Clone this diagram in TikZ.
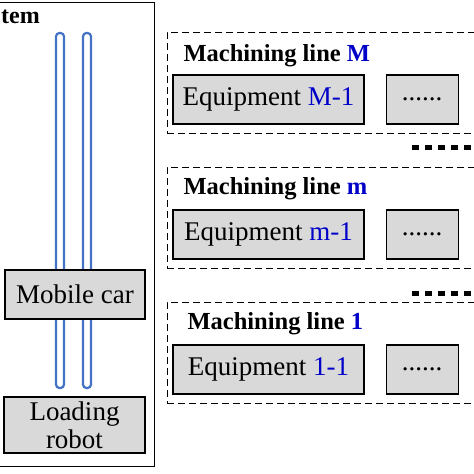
\documentclass[tikz,border=0pt]{standalone}
\usepackage{fontspec}
\setmainfont{Liberation Serif}
\usetikzlibrary{positioning}
\definecolor{railblue}{RGB}{68,114,196}
\definecolor{idblue}{RGB}{0,0,200}
\definecolor{boxgray}{RGB}{217,217,217}

\begin{document}
\begin{tikzpicture}[x=1pt,y=1pt,
  unit box/.style={draw,fill=boxgray,line width=1.2pt,inner sep=0pt,font=\fontsize{27}{28}\selectfont,align=center},
  line box/.style={draw,line width=0.8pt,dash pattern=on 7pt off 4pt,anchor=north west,minimum width=340pt,minimum height=101pt},
  line title/.style={font=\bfseries\fontsize{24.5}{26}\selectfont,anchor=base west},
  rail/.style={draw=railblue,line width=2.2pt,fill=white,rounded corners=3.5pt},
  more dots/.style={line width=5pt,dash pattern=on 7pt off 6pt}]
\useasboundingbox (0,0) rectangle (474,474);
\clip (0,0) rectangle (474,474);

% transport side
\draw[line width=1pt] (-20,471) rectangle (154,7);
\node[font=\bfseries\fontsize{24}{26}\selectfont,anchor=base west,inner sep=0pt] (sys) at (1,450) {tem};
\draw[rail] (56,441) rectangle (64,86);
\draw[rail] (83,441) rectangle (91,86);
\node[unit box,minimum width=140pt,minimum height=49pt] (car) at (75,179.5) {Mobile car};
\node[unit box,minimum width=141pt,minimum height=56pt] (robot) at (74.5,49) {Loading\\robot};

% machining line M
\node[line box] (lineM) at (167,442) {};
\node[line title] (titleM) at (180,412) {Machining line \textcolor{idblue}{M}};
\node[unit box,minimum width=191pt,minimum height=49pt] (eqM) at (268.5,374.5) {Equipment \textcolor{idblue}{M-1}};
\node[unit box,minimum width=72pt,minimum height=49pt,right=21pt of eqM] (restM) {......};

% machining line m
\node[line box] (linem) at (167,307) {};
\node[line title] (titlem) at (180,279) {Machining line \textcolor{idblue}{m}};
\node[unit box,minimum width=191pt,minimum height=49pt] (eqm) at (268.5,239.5) {Equipment \textcolor{idblue}{m-1}};
\node[unit box,minimum width=72pt,minimum height=49pt,right=21pt of eqm] (restm) {......};

% machining line 1
\node[line box] (line1) at (167,172) {};
\node[line title] (title1) at (184,144) {Machining line \textcolor{idblue}{1}};
\node[unit box,minimum width=191pt,minimum height=49pt] (eq1) at (268.5,104.5) {Equipment \textcolor{idblue}{1-1}};
\node[unit box,minimum width=72pt,minimum height=49pt,right=21pt of eq1] (rest1) {......};

% gaps between lines
\coordinate (gapA) at (412,326);
\coordinate (gapB) at (412,180);
\draw[more dots] (gapA) -- ++(70,0);
\draw[more dots] (gapB) -- ++(70,0);
\end{tikzpicture}
\end{document}
